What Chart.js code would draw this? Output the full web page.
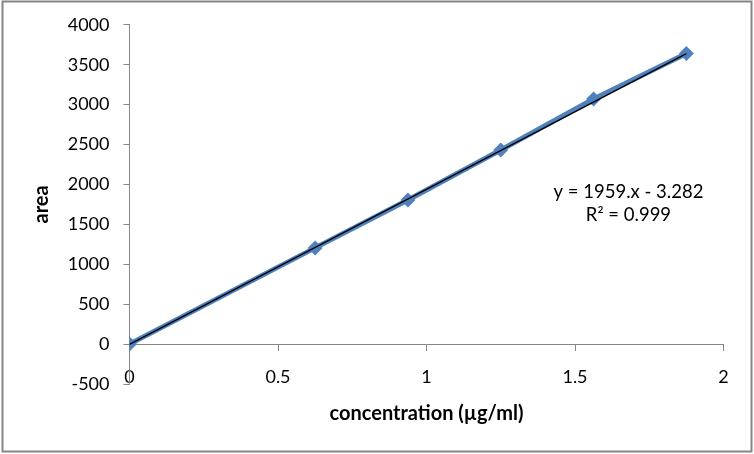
<!DOCTYPE html>
<html>
<head>
<meta charset="utf-8">
<script src="https://cdn.jsdelivr.net/npm/chart.js@4"></script>
<style>
html, body { margin: 0; padding: 0; background: #ffffff; }
#wrap { width: 754px; height: 454px; position: relative; }
</style>
</head>
<body>
<div id="wrap"><canvas id="c" width="754" height="454"></canvas></div>
<script>
// ---- data ----
const concentration = [0, 0.625, 0.9375, 1.25, 1.5625, 1.875];
const area = [0, 1205, 1805, 2431, 3070, 3641];
const trendX = [0, 1.875];
const trendY = [-3, 3640];
const yTicks = [-500, 0, 500, 1000, 1500, 2000, 2500, 3000, 3500, 4000];
const xTicks = [0, 0.5, 1, 1.5, 2];
const equationLines = ['y = 1959.x - 3.282', 'R\u00B2 = 0.999'];
const equationAnchor = [1.68, 1900];
const xTitle = 'concentration (\u00B5g/ml)';
const yTitle = 'area';

const AXIS_GREY = '#868686';
const FONT = 'Lato';

const borderPlugin = {
  id: 'outerBorder',
  afterDraw(chart) {
    const ctx = chart.ctx;
    ctx.save();
    ctx.strokeStyle = AXIS_GREY;
    ctx.lineWidth = 2;
    ctx.strokeRect(2.5, 1.5, 749, 450);
    ctx.restore();
  }
};

const equationPlugin = {
  id: 'equation',
  afterDatasetsDraw(chart) {
    const ctx = chart.ctx;
    const xs = chart.scales.x, ys = chart.scales.y;
    const px = xs.getPixelForValue(equationAnchor[0]);
    const py = ys.getPixelForValue(equationAnchor[1]);
    ctx.save();
    ctx.fillStyle = '#000';
    ctx.font = '18.5px ' + FONT;
    ctx.textAlign = 'center';
    ctx.textBaseline = 'middle';
    equationLines.forEach((t, i) => ctx.fillText(t, px, py + i * 23));
    ctx.restore();
  }
};

const plain = v => String(v);

const dataPoints = concentration.map((x, i) => ({ x: x, y: area[i] }));
const trendPoints = trendX.map((x, i) => ({ x: x, y: trendY[i] }));

new Chart(document.getElementById('c'), {
  type: 'scatter',
  data: {
    datasets: [
      {
        label: 'Linear (area)',
        data: trendPoints,
        showLine: true,
        borderColor: '#000000',
        borderWidth: 1.4,
        pointRadius: 0,
        fill: false
      },
      {
        label: 'area',
        data: dataPoints,
        showLine: true,
        borderColor: '#4F81BD',
        backgroundColor: '#4F81BD',
        borderWidth: 5,
        pointStyle: 'rectRot',
        pointRadius: 7.5,
        pointBorderWidth: 0,
        pointBackgroundColor: '#4F81BD',
        fill: false
      }
    ]
  },
  options: {
    responsive: false,
    animation: false,
    layout: { padding: { left: 2, right: 30.5, top: 24, bottom: 10 } },
    plugins: {
      legend: { display: false },
      tooltip: { enabled: false }
    },
    scales: {
      x: {
        type: 'linear',
        position: 'bottom',
        min: 0, max: 2,
        ticks: { display: false },
        grid: { display: false },
        border: { display: false },
        title: {
          display: true, text: xTitle, color: '#000',
          font: { family: FONT, size: 20, weight: 'bold' },
          padding: { top: 10, bottom: 18 }
        }
      },
      x2: {
        type: 'linear',
        position: { y: 0 },
        min: 0, max: 2,
        afterBuildTicks: s => { s.ticks = xTicks.map(v => ({ value: v })); },
        grid: { display: true, drawOnChartArea: false, tickLength: 6, color: AXIS_GREY },
        border: { display: true, color: AXIS_GREY, width: 1 },
        ticks: { color: '#000', font: { family: FONT, size: 18 }, padding: 16, maxRotation: 0, callback: plain }
      },
      y: {
        type: 'linear',
        min: -500, max: 4000,
        afterBuildTicks: s => { s.ticks = yTicks.map(v => ({ value: v })); },
        afterFit: s => { s.width = 127.5; },
        grid: { display: true, drawOnChartArea: false, tickLength: 6, color: AXIS_GREY },
        border: { display: true, color: AXIS_GREY, width: 1 },
        ticks: { color: '#000', font: { family: FONT, size: 18 }, padding: 14, callback: plain },
        title: {
          display: true, text: yTitle, color: '#000',
          font: { family: FONT, size: 20, weight: 'bold' },
          padding: { top: 28, bottom: 0 }
        }
      }
    }
  },
  plugins: [borderPlugin, equationPlugin]
});
</script>
</body>
</html>
